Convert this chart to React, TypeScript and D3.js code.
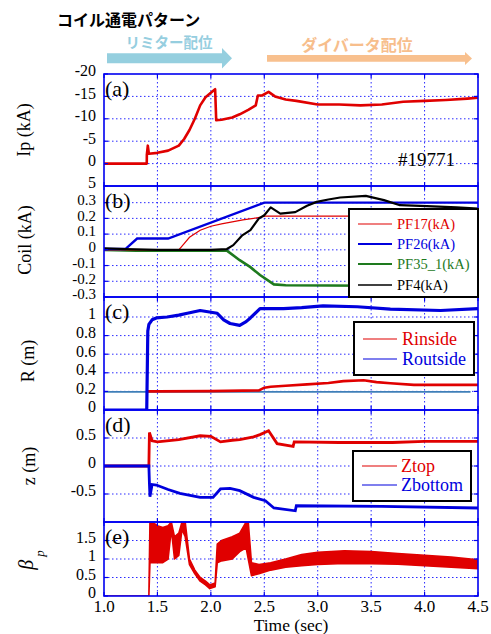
import * as d3 from 'd3';

const W = 491;
const H = 634;
const X0 = 104;
const X1 = 478;

const serif = '"Liberation Serif", "Times New Roman", serif';
const jp = '"Noto Sans CJK JP", sans-serif';

// time axis
const timeTicks = [1.0, 1.5, 2.0, 2.5, 3.0, 3.5, 4.0, 4.5];

// (a) plasma current Ip (kA)
const ipTime = [1.0, 1.4, 1.401, 1.41, 1.42, 1.5, 1.6, 1.7, 1.75, 1.8, 1.85, 1.9, 1.95, 2.0, 2.04, 2.05, 2.1, 2.2, 2.27, 2.35, 2.42, 2.44, 2.48, 2.54, 2.6, 2.7, 2.8, 3.0, 3.2, 3.4, 3.6, 3.8, 4.0, 4.2, 4.4, 4.5];
const ipVal = [0, 0, -2, -4, -2.2, -2.4, -2.9, -4, -5.5, -7.5, -10, -13, -14.8, -15.8, -16.6, -9.7, -9.8, -10.3, -11, -12, -13, -15.2, -15.2, -16, -15, -14.3, -14, -13.2, -13.2, -13.0, -13.2, -13.8, -14, -14.2, -14.5, -14.7];
const ipTicks = [-20, -15, -10, -5, 0, 5];

// (b) coil currents (kA)
const pf17Time = [1.0, 1.7, 1.75, 1.8, 1.9, 2.0, 2.1, 2.2, 2.3, 2.4, 2.52, 4.5];
const pf17Val = [0, 0, 0.04, 0.08, 0.125, 0.15, 0.165, 0.178, 0.19, 0.2, 0.215, 0.215];
const pf26Time = [1.0, 1.2, 1.31, 1.6, 2.5, 4.5];
const pf26Val = [0.005, 0.005, 0.072, 0.072, 0.3, 0.3];
const pf35Time = [1.0, 1.3, 1.6, 2.0, 2.15, 2.27, 2.37, 2.46, 2.59, 2.7, 3.5, 4.5];
const pf35Val = [0.0, -0.005, -0.005, -0.005, -0.005, -0.066, -0.11, -0.16, -0.22, -0.225, -0.228, -0.228];
const pf4Time = [1.0, 1.2, 1.5, 1.8, 2.0, 2.15, 2.21, 2.29, 2.37, 2.45, 2.5, 2.56, 2.65, 2.79, 2.9, 2.99, 3.1, 3.21, 3.45, 3.62, 3.77, 4.02, 4.3, 4.5];
const pf4Val = [0.01, 0.005, 0.0, 0.0, 0.0, 0.005, 0.03, 0.09, 0.125, 0.2, 0.22, 0.27, 0.23, 0.24, 0.28, 0.305, 0.32, 0.333, 0.343, 0.316, 0.284, 0.278, 0.27, 0.263];
const coilTicks = [-0.3, -0.2, -0.1, 0, 0.1, 0.2, 0.3];

// (c) major radius (m)
const refTime = [1.0, 4.43];
const refVal = [0.195, 0.195];
const rinTime = [1.41, 1.5, 2.0, 2.3, 2.45, 2.5, 2.56, 2.7, 2.9, 3.1, 3.24, 3.43, 3.55, 3.68, 3.9, 4.2, 4.5];
const rinVal = [0.2, 0.2, 0.203, 0.208, 0.21, 0.24, 0.25, 0.26, 0.276, 0.29, 0.31, 0.32, 0.3, 0.287, 0.27, 0.27, 0.27];
const routTime = [1.0, 1.4, 1.41, 1.42, 1.45, 1.49, 1.59, 1.7, 1.78, 1.9, 2.06, 2.12, 2.18, 2.27, 2.33, 2.37, 2.46, 2.68, 2.85, 3.05, 3.37, 3.68, 4.15, 4.5];
const routVal = [0, 0, 0.85, 0.92, 0.97, 0.99, 1.0, 1.02, 1.04, 1.07, 1.04, 0.97, 0.93, 0.91, 0.95, 0.99, 1.09, 1.09, 1.1, 1.12, 1.11, 1.085, 1.07, 1.09];
const rTicks = [0, 0.2, 0.4, 0.6, 0.8, 1];

// (d) vertical position (m)
const ztopTime = [1.0, 1.42, 1.425, 1.45, 1.5, 1.7, 1.9, 2.0, 2.09, 2.2, 2.27, 2.4, 2.46, 2.54, 2.62, 2.77, 2.78, 3.2, 3.7, 4.0, 4.5];
const ztopVal = [0, 0, 0.6, 0.45, 0.43, 0.47, 0.54, 0.53, 0.43, 0.46, 0.47, 0.52, 0.56, 0.63, 0.4, 0.35, 0.43, 0.42, 0.42, 0.44, 0.44];
const zbotTime = [1.0, 1.42, 1.425, 1.43, 1.45, 1.49, 1.6, 1.71, 1.9, 2.02, 2.09, 2.18, 2.27, 2.4, 2.51, 2.59, 2.79, 2.8, 3.6, 4.5];
const zbotVal = [0, 0, -0.31, -0.55, -0.33, -0.34, -0.42, -0.49, -0.56, -0.56, -0.41, -0.4, -0.44, -0.56, -0.62, -0.75, -0.8, -0.71, -0.72, -0.75];
const zTicks = [-0.5, 0, 0.5];

// (e) poloidal beta, read as a noise band
const betaTime = [1.0, 1.42, 1.43, 1.45, 1.5, 1.55, 1.6, 1.63, 1.66, 1.7, 1.73, 1.76, 1.8, 1.85, 1.9, 1.95, 1.99, 2.04, 2.06, 2.1, 2.2, 2.27, 2.33, 2.35, 2.38, 2.45, 2.56, 2.7, 2.85, 3.0, 3.25, 3.5, 3.75, 4.0, 4.25, 4.5];
const betaLo = [0, 0, 0.9, 0.9, 0.9, 0.9, 1.0, 1.8, 1.0, 1.1, 1.8, 1.6, 0.85, 0.6, 0.4, 0.3, 0.2, 0.25, 0.9, 0.95, 1.0, 1.2, 1.3, 1.0, 0.55, 0.6, 0.7, 0.78, 0.82, 0.85, 0.88, 0.87, 0.86, 0.82, 0.78, 0.74];
const betaHi = [0, 0, 2.0, 2.0, 1.9, 1.85, 1.9, 2.0, 1.6, 1.7, 2.0, 2.0, 1.0, 0.7, 0.5, 0.4, 0.3, 0.35, 1.4, 1.5, 1.6, 1.7, 2.0, 2.0, 0.9, 0.85, 0.9, 1.0, 1.12, 1.18, 1.22, 1.2, 1.15, 1.1, 1.05, 0.98];
const betaTicks = [0, 0.5, 1, 1.5];

const RED = '#e00000';
const BLUE = '#0000dd';
const GREEN = '#1e7a1e';
const GRID = '#2a2aff';
const FRAME = '#0000f0';

const x = d3.scaleLinear().domain([1.0, 4.5]).range([X0, X1]);

const panels = [
  { id: 'a', top: 74, bottom: 186, domain: [5, -20], ticks: ipTicks, fs: 16 },
  { id: 'b', top: 186, bottom: 297, domain: [-0.3, 0.406], ticks: coilTicks, fs: 15 },
  { id: 'c', top: 297, bottom: 410, domain: [0, 1.215], ticks: rTicks, fs: 16 },
  { id: 'd', top: 410, bottom: 522, domain: [-1, 1], ticks: zTicks, fs: 16 },
  { id: 'e', top: 522, bottom: 596, domain: [0, 2], ticks: betaTicks, fs: 16 },
].map((p) => ({ ...p, y: d3.scaleLinear().domain(p.domain).range([p.bottom, p.top]) }));

const P = Object.fromEntries(panels.map((p) => [p.id, p]));

function trace(ts: number[], vs: number[], y: d3.ScaleLinear<number, number>) {
  return d3.line<number>().x((_, i) => x(ts[i])).y((v) => y(v))(vs) || '';
}

function Legend({ x0, y0, w, h, rows, size, lineX, textX, rowY }: any) {
  return (
    <g>
      <rect x={x0} y={y0} width={w} height={h} fill="#fff" stroke="#000" strokeWidth={2} />
      {rows.map((r: any, i: number) => (
        <g key={r.name}>
          <line x1={lineX[0]} x2={lineX[1]} y1={rowY[i]} y2={rowY[i]} stroke={r.color} strokeWidth={r.w} />
          <text x={textX} y={rowY[i]} dy="0.33em" fontSize={size} fill={r.color} fontFamily={serif}>{r.name}</text>
        </g>
      ))}
    </g>
  );
}

export default function App() {
  const betaArea = d3.area<number>()
    .x((_, i) => x(betaTime[i]))
    .y0((_, i) => P.e.y(betaLo[i]))
    .y1((_, i) => P.e.y(betaHi[i]))(betaLo) || '';

  return (
    <svg width={W} height={H} style={{ position: 'absolute', left: 0, top: 0, display: 'block' }}>
      <rect width={W} height={H} fill="#fff" />
      <defs>
        {panels.map((p) => (
          <clipPath id={'clip-' + p.id} key={p.id}>
            <rect x={X0} y={p.top} width={X1 - X0} height={p.bottom - p.top} />
          </clipPath>
        ))}
      </defs>

      {/* heading */}
      <text x={57} y={26} fontSize={16} fontWeight="bold" fontFamily={jp} fill="#000">コイル通電パターン</text>
      <text x={169} y={48} fontSize={14.5} fontWeight="bold" fontFamily={jp} fill="#96cedf" textAnchor="middle">リミター配位</text>
      <path d="M107,53.3 H222 V48 L232,58.3 L222,68.6 V63.3 H107 Z" fill="#95cfdf" />
      <text x={357} y={51} fontSize={16} fontWeight="bold" fontFamily={jp} fill="#f7be8c" textAnchor="middle">ダイバータ配位</text>
      <path d="M267,55 H465 V52 L472,58.4 L465,65 V61.7 H267 Z" fill="#f8c08e" />

      {/* grids */}
      {panels.map((p) => (
        <g key={'g' + p.id}>
          {p.ticks.filter((v) => p.y(v) > p.top + 1 && p.y(v) < p.bottom - 1).map((v) => (
            <line key={'h' + v} x1={X0} x2={X1} y1={p.y(v)} y2={p.y(v)} stroke={GRID} strokeWidth={1} strokeDasharray="1.5,2.5" />
          ))}
          {timeTicks.slice(1, -1).map((t) => (
            <line key={'v' + t} x1={x(t)} x2={x(t)} y1={p.top} y2={p.bottom} stroke={GRID} strokeWidth={1} strokeDasharray="1.5,2.5" />
          ))}
        </g>
      ))}

      {/* (a) */}
      <g clipPath="url(#clip-a)">
        <path d={trace(ipTime, ipVal, P.a.y)} fill="none" stroke={RED} strokeWidth={2.6} strokeLinejoin="round" />
      </g>

      {/* (b) */}
      <g clipPath="url(#clip-b)">
        <path d={trace(pf35Time, pf35Val, P.b.y)} fill="none" stroke={GREEN} strokeWidth={2.6} />
        <path d={trace(pf17Time, pf17Val, P.b.y)} fill="none" stroke={RED} strokeWidth={1.2} />
        <path d={trace(pf26Time, pf26Val, P.b.y)} fill="none" stroke={BLUE} strokeWidth={2.4} />
        <path d={trace(pf4Time, pf4Val, P.b.y)} fill="none" stroke="#000" strokeWidth={2.2} strokeLinejoin="round" />
      </g>

      {/* (c) */}
      <g clipPath="url(#clip-c)">
        <path d={trace(refTime, refVal, P.c.y)} fill="none" stroke="#3f7fb8" strokeWidth={1.6} />
        <path d={trace(rinTime, rinVal, P.c.y)} fill="none" stroke={RED} strokeWidth={2.6} />
        <path d={trace(routTime, routVal, P.c.y)} fill="none" stroke={BLUE} strokeWidth={3.2} strokeLinejoin="round" />
      </g>

      {/* (d) */}
      <g clipPath="url(#clip-d)">
        <path d={trace(ztopTime, ztopVal, P.d.y)} fill="none" stroke={RED} strokeWidth={2.8} />
        <path d={trace(zbotTime, zbotVal, P.d.y)} fill="none" stroke={BLUE} strokeWidth={2.8} />
      </g>

      {/* (e) */}
      <g clipPath="url(#clip-e)">
        <path d={betaArea} fill={RED} stroke={RED} strokeWidth={1.6} strokeLinejoin="round" />
      </g>

      {/* frames, ticks, labels */}
      {panels.map((p) => (
        <g key={'f' + p.id}>
          <rect x={X0} y={p.top} width={X1 - X0} height={p.bottom - p.top} fill="none" stroke={FRAME} strokeWidth={1.6} />
          {p.ticks.map((v) => (
            <g key={'t' + v}>
              <line x1={X0} x2={X0 + 4} y1={p.y(v)} y2={p.y(v)} stroke={FRAME} strokeWidth={1.2} />
              <line x1={X1 - 4} x2={X1} y1={p.y(v)} y2={p.y(v)} stroke={FRAME} strokeWidth={1.2} />
              <text x={96} y={p.y(v)} dy="0.15em" textAnchor="end" fontSize={p.fs} fontFamily={serif} fill="#000">{String(v)}</text>
            </g>
          ))}
          {timeTicks.map((t) => (
            <g key={'x' + t}>
              <line x1={x(t)} x2={x(t)} y1={p.top} y2={p.top + 4} stroke={FRAME} strokeWidth={1.2} />
              <line x1={x(t)} x2={x(t)} y1={p.bottom - 4} y2={p.bottom} stroke={FRAME} strokeWidth={1.2} />
            </g>
          ))}
          <text x={105} y={p.top + 22} fontSize={22} fontFamily={serif} fill="#000">({p.id})</text>
        </g>
      ))}

      {timeTicks.map((t) => (
        <text key={'xl' + t} x={x(t)} y={612} textAnchor="middle" fontSize={17} fontFamily={serif} fill="#000">{t.toFixed(1)}</text>
      ))}
      <text x={(X0 + X1) / 2} y={631} textAnchor="middle" fontSize={17.5} fontFamily={serif} fill="#000">Time (sec)</text>

      {/* y labels */}
      <text transform="translate(30,130) rotate(-90)" textAnchor="middle" fontSize={18} fontFamily={serif} fill="#000">Ip (kA)</text>
      <text transform="translate(31,240) rotate(-90)" textAnchor="middle" fontSize={18} fontFamily={serif} fill="#000">Coil (kA)</text>
      <text transform="translate(34,361) rotate(-90)" textAnchor="middle" fontSize={18} fontFamily={serif} fill="#000">R (m)</text>
      <text transform="translate(35,466) rotate(-90)" textAnchor="middle" fontSize={18} fontFamily={serif} fill="#000">z (m)</text>
      <text transform="translate(33,560) rotate(-90)" textAnchor="middle" fontSize={20} fontFamily={serif} fontStyle="italic" fill="#000">
        β<tspan fontSize={13} dy={11} dx={3}>p</tspan>
      </text>

      <text x={398} y={166} fontSize={19} fontFamily={serif} fill="#000">#19771</text>

      <Legend
        x0={349} y0={209} w={129} h={88} size={14.5}
        lineX={[358, 392]} textX={397} rowY={[224, 244, 264, 285]}
        rows={[
          { name: 'PF17(kA)', color: RED, w: 1.2 },
          { name: 'PF26(kA)', color: BLUE, w: 2.2 },
          { name: 'PF35_1(kA)', color: GREEN, w: 2.2 },
          { name: 'PF4(kA)', color: '#000', w: 1.5 },
        ]}
      />
      <Legend
        x0={354} y0={322} w={120} h={53} size={18}
        lineX={[363, 397]} textX={402} rowY={[339, 359]}
        rows={[
          { name: 'Rinside', color: RED, w: 1.2 },
          { name: 'Routside', color: BLUE, w: 1.2 },
        ]}
      />
      <Legend
        x0={353} y0={451} w={118} h={50} size={18}
        lineX={[362, 397]} textX={401} rowY={[466, 485]}
        rows={[
          { name: 'Ztop', color: RED, w: 1.2 },
          { name: 'Zbottom', color: BLUE, w: 1.2 },
        ]}
      />
    </svg>
  );
}
